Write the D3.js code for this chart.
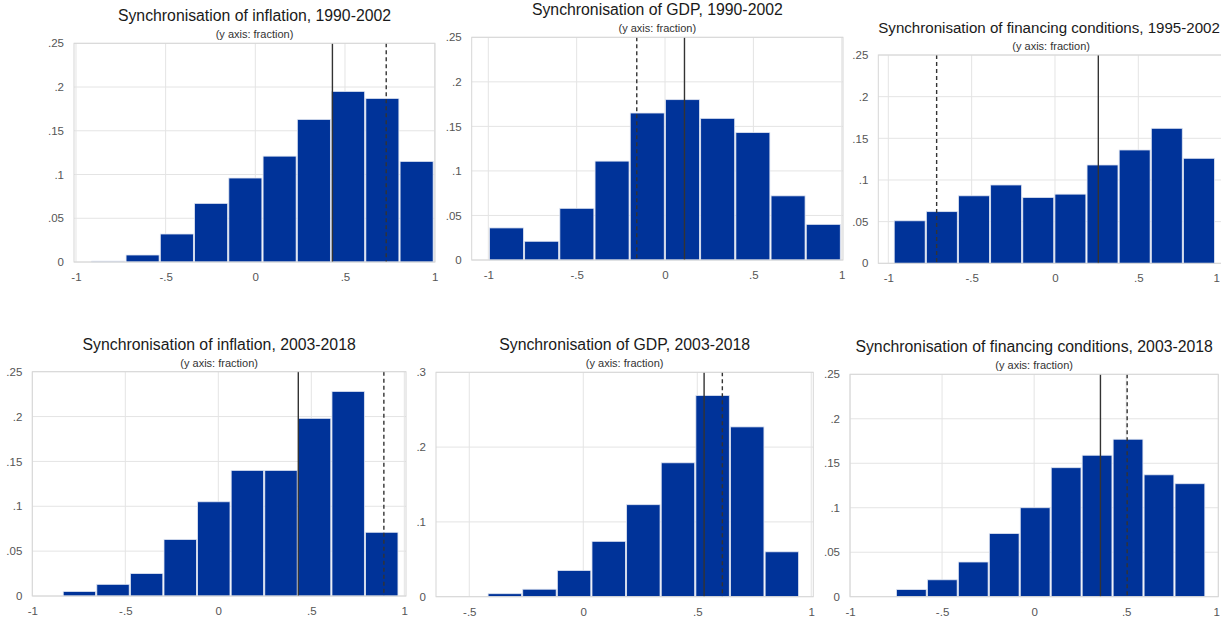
<!DOCTYPE html>
<html>
<head>
<meta charset="utf-8">
<script src="https://cdn.jsdelivr.net/npm/d3@7"></script>
<style>
  body { margin: 0; background: #fff; }
  svg { display: block; }
  text { font-family: "Liberation Sans", Arial, Helvetica, sans-serif; }
</style>
</head>
<body>
<svg id="chart" width="1221" height="620"></svg>
<script>
// ---- data ----
const titles = [
  "Synchronisation of inflation, 1990-2002",
  "Synchronisation of GDP, 1990-2002",
  "Synchronisation of financing conditions, 1995-2002",
  "Synchronisation of inflation, 2003-2018",
  "Synchronisation of GDP, 2003-2018",
  "Synchronisation of financing conditions, 2003-2018"
];
const subtitle = "(y axis: fraction)";

// histogram fractions, 10 equal bins per panel
const inflation9002   = [0.001, 0.008, 0.032, 0.067, 0.096, 0.121, 0.163, 0.195, 0.187, 0.115];
const gdp9002         = [0.036, 0.021, 0.058, 0.111, 0.165, 0.180, 0.159, 0.143, 0.072, 0.040];
const financing9502   = [0.051, 0.062, 0.081, 0.094, 0.079, 0.083, 0.118, 0.136, 0.162, 0.126];
const inflation0318   = [0.005, 0.013, 0.025, 0.063, 0.105, 0.140, 0.140, 0.198, 0.228, 0.071];
const gdp0318         = [0.000, 0.004, 0.010, 0.035, 0.074, 0.123, 0.179, 0.269, 0.227, 0.060];
const financing0318   = [0.008, 0.019, 0.039, 0.071, 0.100, 0.145, 0.159, 0.177, 0.137, 0.127];
const seriesValues = [inflation9002, gdp9002, financing9502, inflation0318, gdp0318, financing0318];

// lower and upper edge of the binned range
const binRanges = [
  [-0.915, 0.995], [-0.997, 0.995], [-0.968, 0.960],
  [-0.837, 0.969], [-0.572, 0.947], [-0.751, 0.930]
];

// reference lines
const solidLine  = [0.43, 0.11, 0.26, 0.43, 0.53, 0.36];
const dashedLine = [0.73, -0.16, -0.71, 0.89, 0.61, 0.505];

// tick values
const xTicks = [-1, -0.5, 0, 0.5, 1];
const yTicksA = [0, 0.05, 0.1, 0.15, 0.2, 0.25];
const yTicksB = [0, 0.1, 0.2, 0.3];
const panelYTicks = [yTicksA, yTicksA, yTicksA, yTicksA, yTicksB, yTicksA];

// ---- layout (plot region of each panel and its x extent) ----
const layout = [
  { left: 74,    right: 435,    top: 43.3,  bottom: 262,   xLo: -1.011, xHi: 1.002 },
  { left: 471.7, right: 843,    top: 37.3,  bottom: 260,   xLo: -1.094, xHi: 1.007 },
  { left: 878.3, right: 1224,   top: 55,    bottom: 263.3, xLo: -1.060, xHi: 1.014 },
  { left: 32.3,  right: 406,    top: 371.7, bottom: 596,   xLo: -1.000, xHi: 1.009 },
  { left: 436,   right: 813.3,  top: 372.3, bottom: 596.7, xLo: -0.646, xHi: 1.009 },
  { left: 850,   right: 1218.3, top: 374.3, bottom: 596.7, xLo: -1.000, xHi: 1.000 }
];

const W = 1221;
const BAR = "#003399";
const GRID = "#e4e4e4";
const FRAME = "#d6d6d6";
const LINE = "#333333";

// Stata-style numbers: drop the leading zero (".5", "-.5", ".05")
const fmt = v => String(+v.toFixed(4)).replace(/^(-?)0\./, "$1.");

const svg = d3.select("#chart");

layout.forEach((L, p) => {
  const yTicks = panelYTicks[p];
  const yMax = yTicks[yTicks.length - 1];
  const x = d3.scaleLinear().domain([L.xLo, L.xHi]).range([L.left, L.right]);
  const y = d3.scaleLinear().domain([0, yMax]).range([L.bottom, L.top]);
  const g = svg.append("g");

  const ticksX = xTicks.filter(t => t >= L.xLo - 0.02 && t <= L.xHi + 0.02);

  // grid
  g.append("g").selectAll("line").data(ticksX).join("line")
    .attr("x1", d => x(d)).attr("x2", d => x(d))
    .attr("y1", L.top).attr("y2", L.bottom)
    .attr("stroke", GRID).attr("stroke-width", 1);
  g.append("g").selectAll("line").data(yTicks).join("line")
    .attr("x1", L.left).attr("x2", L.right)
    .attr("y1", d => y(d)).attr("y2", d => y(d))
    .attr("stroke", GRID).attr("stroke-width", 1);

  // bars
  const vals = seriesValues[p];
  const [lo, hi] = binRanges[p];
  const w = (hi - lo) / vals.length;
  const bins = vals.map((v, i) => ({ x0: lo + i * w, x1: lo + (i + 1) * w, v }));
  g.append("g").selectAll("rect").data(bins.filter(b => b.v > 0)).join("rect")
    .attr("x", d => x(d.x0) + 0.6)
    .attr("width", d => x(d.x1) - x(d.x0) - 1.2)
    .attr("y", d => y(d.v))
    .attr("height", d => y(0) - y(d.v))
    .attr("fill", BAR)
    .attr("stroke", "#dfe5f2")
    .attr("stroke-width", 0.8);

  // reference lines
  g.append("line")
    .attr("x1", x(solidLine[p])).attr("x2", x(solidLine[p]))
    .attr("y1", L.top).attr("y2", L.bottom)
    .attr("stroke", LINE).attr("stroke-width", 1.4);
  g.append("line")
    .attr("x1", x(dashedLine[p])).attr("x2", x(dashedLine[p]))
    .attr("y1", L.top).attr("y2", L.bottom)
    .attr("stroke", LINE).attr("stroke-width", 1.4)
    .attr("stroke-dasharray", "4,3");

  // frame
  g.append("rect")
    .attr("x", L.left).attr("y", L.top)
    .attr("width", L.right - L.left).attr("height", L.bottom - L.top)
    .attr("fill", "none").attr("stroke", FRAME).attr("stroke-width", 1);

  // axes (labels only)
  const ax = g.append("g").attr("transform", `translate(0,${L.bottom})`)
    .call(d3.axisBottom(x).tickValues(ticksX).tickFormat(fmt).tickSize(0).tickPadding(11));
  const ay = g.append("g").attr("transform", `translate(${L.left},0)`)
    .call(d3.axisLeft(y).tickValues(yTicks).tickFormat(fmt).tickSize(0).tickPadding(10));
  [ax, ay].forEach(a => {
    a.select(".domain").remove();
    a.selectAll("text")
      .style("font-family", "\"Liberation Sans\", Arial, sans-serif")
      .style("font-size", "11.5px")
      .attr("fill", "#555");
  });
  // keep the last x label inside the page
  ax.selectAll("text").each(function () {
    const b = this.getBoundingClientRect();
    if (b.right > W - 1) d3.select(this).attr("dx", -(b.right - (W - 1)));
  });

  // titles
  const cx = (L.left + L.right) / 2;
  const t = g.append("text").attr("x", cx).attr("y", L.top - 22)
    .attr("text-anchor", "middle").attr("font-size", 15.8).attr("fill", "#1a1a1a")
    .text(titles[p]);
  // a title running past the page edge is shrunk and held at the frame's left edge
  let bb = t.node().getBBox();
  if (bb.x + bb.width > W - 1) {
    const fs = 15.8 * (W - 1 - L.left) / bb.width;
    t.attr("font-size", fs).attr("text-anchor", "start").attr("x", L.left);
  }
  g.append("text").attr("x", cx).attr("y", L.top - 5)
    .attr("text-anchor", "middle").attr("font-size", 11).attr("fill", "#333")
    .text(subtitle);
});
</script>
</body>
</html>
